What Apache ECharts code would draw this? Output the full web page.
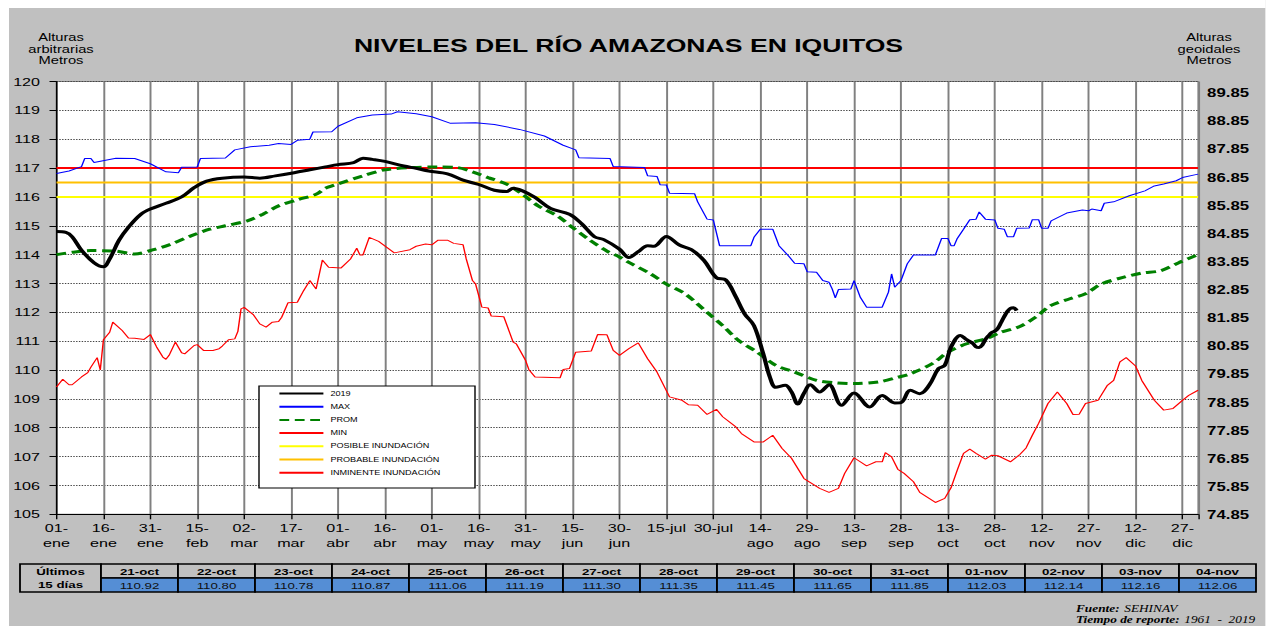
<!DOCTYPE html>
<html>
<head>
<meta charset="utf-8">
<title>Niveles del río Amazonas en Iquitos</title>
<script src="https://cdn.jsdelivr.net/npm/echarts@6/dist/echarts.min.js"></script>
<style>
html, body { margin: 0; padding: 0; background: #fff; overflow: hidden; }
#chart { height: 626px; transform-origin: 0 0; }
</style>
</head>
<body>
<div id="chart"></div>
<script>
// ticks of the day axis (one every 15 days)
var xLabels = ['01-\nene', '16-\nene', '31-\nene', '15-\nfeb', '02-\nmar', '17-\nmar', '01-\nabr', '16-\nabr',
  '01-\nmay', '16-\nmay', '31-\nmay', '15-\njun', '30-\njun', '15-jul', '30-jul', '14-\nago', '29-\nago',
  '13-\nsep', '28-\nsep', '13-\noct', '28-\noct', '12-\nnov', '27-\nnov', '12-\ndic', '27-\ndic'];
// geoidal heights (right axis), from 105 to 120 arbitrary
var rightLabels = ['74.85', '75.85', '76.85', '77.85', '78.85', '79.85', '80.85', '81.85',
  '82.85', '83.85', '84.85', '85.85', '86.85', '87.85', '88.85', '89.85'];

var thresholdNames = ['POSIBLE INUNDACIÓN', 'PROBABLE INUNDACIÓN', 'INMINENTE INUNDACIÓN'];
var thresholdLevels = [116, 116.5, 117];

// 2019 (day of year, level)
var days2019 = [0, 3, 5, 8, 12, 15, 17, 20, 23, 27, 30, 35, 40, 44, 48, 53, 60, 65, 70, 76,
  81, 86, 90, 95, 98, 101, 105, 111, 115, 119, 125, 130, 135, 140, 144, 146, 149, 153, 158, 164,
  168, 172, 175, 180, 183, 186, 189, 191, 195, 199, 203, 207, 211, 214, 217, 220, 223, 226, 228, 230,
  233, 235, 237, 239, 241, 244, 247, 251, 255, 260, 264, 268, 270, 273, 276, 279, 282, 284, 286, 289,
  291, 293, 294, 295, 296, 297, 298, 299, 300, 301, 302, 303, 304, 305, 306, 307];
var level2019 = [114.80, 114.77, 114.62, 114.15, 113.72, 113.58, 113.85, 114.50, 114.95, 115.40,
  115.58, 115.78, 116.00, 116.32, 116.55, 116.65, 116.69, 116.65, 116.73, 116.84,
  116.94, 117.04, 117.12, 117.19, 117.34, 117.30, 117.23, 117.07, 116.99, 116.90,
  116.80, 116.58, 116.43, 116.23, 116.19, 116.30, 116.21, 115.98, 115.60, 115.40,
  115.06, 114.62, 114.52, 114.19, 113.90, 114.10, 114.31, 114.29, 114.63, 114.34,
  114.17, 113.80, 113.20, 113.12, 112.58, 111.95, 111.54, 110.55, 109.78, 109.40,
  109.47, 109.24, 108.82, 109.20, 109.49, 109.24, 109.49, 108.78, 109.20, 108.72,
  109.12, 108.86, 108.87, 109.30, 109.18, 109.47, 110.05, 110.16, 110.80, 111.20,
  111.05, 110.92, 110.80, 110.78, 110.87, 111.06, 111.19, 111.30, 111.35, 111.45,
  111.65, 111.85, 112.03, 112.14, 112.16, 112.06];

// PROM
var daysProm = [0, 5, 11, 19, 25, 31, 36, 43, 49, 54, 61, 66, 71, 77, 83, 86, 90, 98, 105, 114,
  122, 128, 133, 138, 144, 149, 154, 160, 165, 170, 176, 180, 183, 190, 195, 201, 208, 213, 218, 224,
  230, 236, 243, 249, 255, 263, 269, 273, 280, 285, 291, 297, 302, 308, 313, 318, 324, 329, 334, 341,
  347, 353, 359, 365];
var levelProm = [114.00, 114.08, 114.14, 114.12, 114.02, 114.17, 114.34, 114.65, 114.88, 115.00,
  115.17, 115.40, 115.69, 115.90, 116.09, 116.30, 116.45, 116.73, 116.94, 117.02,
  117.04, 117.02, 116.87, 116.67, 116.44, 116.09, 115.69, 115.35, 114.94, 114.54,
  114.12, 113.92, 113.73, 113.33, 112.98, 112.64, 112.00, 111.54, 111.03, 110.62,
  110.16, 109.93, 109.64, 109.56, 109.53, 109.59, 109.75, 109.87, 110.22, 110.62,
  110.91, 111.08, 111.31, 111.51, 111.83, 112.24, 112.47, 112.64, 112.98, 113.21,
  113.36, 113.44, 113.73, 114.00];

// MAX
var daysMax = [0, 4, 8, 9, 11, 12, 19, 25, 30, 35, 39, 40, 45, 46, 54, 57, 62, 68, 71, 75,
  77, 81, 82, 88, 90, 96, 101, 107, 109, 115, 120, 126, 134, 140, 148, 156, 162, 166, 167, 177,
  178, 188, 189, 192, 193, 195, 196, 204, 205, 208, 210, 212, 222, 223, 225, 229, 231, 234, 236, 239,
  240, 243, 245, 247, 248, 249, 250, 254, 255, 257, 259, 264, 266, 267, 268, 270, 272, 274, 281, 283,
  285, 286, 287, 288, 290, 292, 294, 295, 297, 300, 301, 303, 304, 306, 307, 311, 312, 314, 315, 317,
  318, 323, 328, 330, 331, 334, 335, 338, 343, 348, 351, 354, 358, 360, 365];
var levelMax = [116.81, 116.90, 117.05, 117.33, 117.33, 117.19, 117.34, 117.33, 117.15, 116.87,
  116.84, 117.03, 117.04, 117.33, 117.35, 117.63, 117.74, 117.79, 117.85, 117.82,
  117.96, 118.00, 118.25, 118.26, 118.45, 118.74, 118.84, 118.87, 118.95, 118.88,
  118.78, 118.55, 118.57, 118.51, 118.34, 118.11, 117.79, 117.63, 117.36, 117.33,
  117.05, 117.02, 116.73, 116.71, 116.42, 116.41, 116.13, 116.11, 115.83, 115.23,
  115.20, 114.31, 114.31, 114.60, 114.88, 114.88, 114.31, 113.96, 113.70, 113.68,
  113.41, 113.39, 113.10, 113.04, 112.81, 112.50, 112.79, 112.81, 113.10, 112.52,
  112.18, 112.18, 112.70, 113.33, 112.87, 113.10, 113.68, 113.99, 113.99, 114.56,
  114.56, 114.31, 114.31, 114.56, 114.88, 115.21, 115.23, 115.48, 115.23, 115.20,
  114.91, 114.88, 114.62, 114.62, 114.91, 114.92, 115.21, 115.21, 114.91, 114.91,
  115.17, 115.44, 115.55, 115.52, 115.58, 115.52, 115.78, 115.83, 116.04, 116.21,
  116.38, 116.45, 116.56, 116.67, 116.79];

// MIN
var daysMin = [0, 2, 4, 5, 8, 10, 11, 13, 14, 15, 17, 18, 21, 23, 25, 28, 30, 32, 34, 35,
  36, 38, 40, 41, 44, 45, 47, 50, 52, 53, 55, 57, 58, 59, 60, 63, 65, 67, 69, 71,
  72, 74, 77, 79, 81, 83, 85, 87, 91, 94, 96, 97, 98, 100, 103, 108, 113, 115, 118, 120,
  122, 125, 127, 130, 131, 133, 134, 136, 138, 139, 143, 146, 147, 150, 151, 153, 161, 162, 164, 166,
  171, 173, 176, 178, 180, 183, 186, 189, 192, 196, 200, 202, 205, 208, 211, 213, 217, 219, 223, 226,
  229, 232, 235, 239, 244, 247, 250, 252, 255, 259, 262, 264, 265, 267, 269, 271, 274, 276, 279, 281,
  284, 286, 288, 290, 292, 294, 297, 299, 301, 305, 308, 310, 312, 314, 317, 320, 323, 325, 327, 329,
  333, 336, 338, 340, 342, 345, 347, 351, 354, 357, 360, 362, 365];
var levelMin = [109.41, 109.68, 109.49, 109.49, 109.76, 109.91, 110.10, 110.43, 110.00, 111.05,
  111.31, 111.66, 111.37, 111.11, 111.10, 111.06, 111.23, 110.80, 110.45, 110.37,
  110.51, 110.97, 110.60, 110.56, 110.85, 110.88, 110.68, 110.68, 110.74, 110.83,
  111.05, 111.08, 111.34, 112.12, 112.17, 111.91, 111.60, 111.49, 111.66, 111.68,
  111.83, 112.33, 112.35, 112.75, 113.10, 112.81, 113.81, 113.56, 113.54, 113.85,
  114.22, 113.99, 113.99, 114.60, 114.46, 114.06, 114.17, 114.29, 114.37, 114.34,
  114.50, 114.50, 114.39, 114.34, 113.85, 113.10, 112.98, 112.18, 112.15, 111.87,
  111.85, 110.97, 110.91, 110.33, 110.02, 109.76, 109.73, 110.02, 110.05, 110.62,
  110.66, 111.23, 111.22, 110.68, 110.51, 110.74, 110.94, 110.39, 109.93, 109.07,
  108.95, 108.80, 108.78, 108.46, 108.64, 108.38, 108.05, 107.80, 107.51, 107.51,
  107.74, 107.28, 106.94, 106.24, 105.90, 105.76, 105.90, 106.42, 106.96, 106.68,
  106.82, 106.82, 107.14, 106.99, 106.56, 106.42, 106.13, 105.76, 105.55, 105.41,
  105.55, 105.92, 106.53, 107.11, 107.26, 107.11, 106.91, 107.05, 107.03, 106.82,
  107.07, 107.30, 107.74, 108.15, 108.84, 109.24, 108.84, 108.46, 108.47, 108.84,
  108.95, 109.47, 109.64, 110.28, 110.43, 110.14, 109.64, 108.95, 108.61, 108.67,
  108.95, 109.12, 109.30];

// last 15 days table
var tableDates = ['21-oct', '22-oct', '23-oct', '24-oct', '25-oct', '26-oct', '27-oct', '28-oct',
  '29-oct', '30-oct', '31-oct', '01-nov', '02-nov', '03-nov', '04-nov'];
var tableValues = ['110.92', '110.80', '110.78', '110.87', '111.06', '111.19', '111.30', '111.35',
  '111.45', '111.65', '111.85', '112.03', '112.14', '112.16', '112.06'];

// the original picture is stretched sideways, so draw narrow and stretch
var S = 1.4;
var W = 1266 / S;
var FONT = '"Liberation Sans", Arial, sans-serif';
var SERIF = '"Liberation Serif", "Times New Roman", serif';

function px(x) { return x / S; }
function pairs(d, v) { return d.map(function (x, i) { return [x, v[i]]; }); }

var dom = document.getElementById('chart');
dom.style.width = W + 'px';
dom.style.transform = 'scaleX(' + S + ')';
var chart = echarts.init(dom, null, { renderer: 'svg' });

var footRich = {
  b: { fontFamily: SERIF, fontSize: 9.5, fontStyle: 'italic', fontWeight: 'bold', fill: '#000' },
  i: { fontFamily: SERIF, fontSize: 9.5, fontStyle: 'italic', fill: '#000' }
};

var graphics = [
  { type: 'rect', shape: { x: 0, y: 0, width: W, height: 8 }, style: { fill: '#fff' } },
  { type: 'rect', shape: { x: 0, y: 0, width: px(9), height: 626 }, style: { fill: '#fff' } },
  { type: 'text', x: px(628.5), y: 45,
    style: { text: 'NIVELES DEL RÍO AMAZONAS EN IQUITOS', fontSize: 19, fontWeight: 'bold', fontFamily: FONT,
      fill: '#000', align: 'center', verticalAlign: 'middle' } },
  { type: 'text', x: px(61), y: 49,
    style: { text: 'Alturas\narbitrarias\nMetros', fontSize: 10.5, lineHeight: 11.7, fontFamily: FONT,
      fill: '#000', align: 'center', verticalAlign: 'middle' } },
  { type: 'text', x: px(1209), y: 49,
    style: { text: 'Alturas\ngeoidales\nMetros', fontSize: 10.5, lineHeight: 11.7, fontFamily: FONT,
      fill: '#000', align: 'center', verticalAlign: 'middle' } },
  // legend box
  { type: 'rect', z: 10, shape: { x: px(259), y: 386, width: px(216), height: 102 },
    style: { fill: '#fff', stroke: '#000', lineWidth: 1 } },
  // footer
  { type: 'text', x: px(1076), y: 609,
    style: { text: '{b|Fuente:} {i|SEHINAV}', verticalAlign: 'middle', rich: footRich } },
  { type: 'text', x: px(1076), y: 619.5,
    style: { text: '{b|Tiempo de reporte:} {i|1961  -  2019}', verticalAlign: 'middle', rich: footRich } }
];

// table of the last 15 days
var tX = 20, tY = 564, firstW = 81, colW = 77, rowH = 14;
graphics.push({ type: 'rect', z: 5, shape: { x: px(tX), y: tY, width: px(firstW), height: rowH * 2 },
  style: { fill: '#c0c0c0', stroke: '#000', lineWidth: 1.3 } });
graphics.push({ type: 'text', z: 6, x: px(tX + firstW / 2), y: tY + rowH,
  style: { text: 'Últimos\n15 días', fontSize: 9.5, lineHeight: 12.5, fontWeight: 'bold', fontFamily: FONT,
    fill: '#000', align: 'center', verticalAlign: 'middle' } });
tableDates.forEach(function (d, i) {
  var x = tX + firstW + i * colW;
  graphics.push({ type: 'rect', z: 5, shape: { x: px(x), y: tY, width: px(colW), height: rowH },
    style: { fill: '#c0c0c0', stroke: '#000', lineWidth: 1.3 } });
  graphics.push({ type: 'rect', z: 5, shape: { x: px(x), y: tY + rowH, width: px(colW), height: rowH },
    style: { fill: '#558ed5', stroke: '#000', lineWidth: 1.3 } });
  graphics.push({ type: 'text', z: 6, x: px(x + colW / 2), y: tY + rowH / 2 + 0.5,
    style: { text: d, fontSize: 9.5, fontWeight: 'bold', fontFamily: FONT, fill: '#000',
      align: 'center', verticalAlign: 'middle' } });
  graphics.push({ type: 'text', z: 6, x: px(x + colW / 2), y: tY + rowH * 1.5 + 0.5,
    style: { text: tableValues[i], fontSize: 9.5, fontFamily: FONT, fill: '#111',
      align: 'center', verticalAlign: 'middle' } });
});

var thresholdColors = ['#ffff00', '#ffc000', '#ff0000'];
var series = thresholdLevels.map(function (t, i) {
  return {
    name: thresholdNames[i], type: 'line', xAxisIndex: 0, yAxisIndex: 0,
    data: [[0, t], [365, t]], symbol: 'none', silent: true,
    lineStyle: { color: thresholdColors[i], width: 2 }, itemStyle: { color: thresholdColors[i] }
  };
});
series.push({
  name: 'MIN', type: 'line', data: pairs(daysMin, levelMin), symbol: 'none',
  lineStyle: { color: '#ff0000', width: 1 }, itemStyle: { color: '#ff0000' }
});
series.push({
  name: 'MAX', type: 'line', data: pairs(daysMax, levelMax), symbol: 'none',
  lineStyle: { color: '#0000ff', width: 1 }, itemStyle: { color: '#0000ff' }
});
series.push({
  name: 'PROM', type: 'line', data: pairs(daysProm, levelProm), symbol: 'none', smooth: 0.3,
  lineStyle: { color: '#008000', width: 3, type: [7, 4] }, itemStyle: { color: '#008000' }
});
series.push({
  name: '2019', type: 'line', data: pairs(days2019, level2019), symbol: 'none', smooth: 0.35,
  lineStyle: { color: '#000', width: 3 }, itemStyle: { color: '#000' }
});

var gridL = px(56.5), gridR = px(1266 - 1198.5);

var option = {
  animation: false,
  backgroundColor: '#c0c0c0',
  textStyle: { fontFamily: FONT },
  grid: [
    { left: gridL, right: gridR, top: 81.5, bottom: 626 - 514.3, show: true, backgroundColor: '#fff',
      borderColor: '#808080', borderWidth: 1, outerBoundsMode: 'none' },
    { left: gridL, right: gridR, top: 93, bottom: 626 - 515, show: false, outerBoundsMode: 'none' }
  ],
  legend: {
    data: ['2019', 'MAX', 'PROM', 'MIN'].concat(thresholdNames),
    orient: 'vertical', left: px(278), top: 390, padding: 0,
    itemWidth: px(44), itemHeight: 8, itemGap: 6.2, z: 20,
    itemStyle: { opacity: 0 },
    textStyle: { fontSize: 6.5, color: '#000', fontFamily: FONT }
  },
  xAxis: [
    { gridIndex: 0, type: 'value', min: 0, max: 365, interval: 15,
      axisLine: { lineStyle: { color: '#000', width: 1.2 } },
      axisTick: { length: 5, lineStyle: { color: '#000' } },
      axisLabel: { color: '#000', fontSize: 11.5, lineHeight: 15, margin: 6.5, fontFamily: FONT,
        formatter: function (v) { return v % 15 === 0 && v / 15 < xLabels.length ? xLabels[v / 15] : ''; } },
      splitLine: { show: true, lineStyle: { color: '#808080', width: 1.4 } } },
    { gridIndex: 1, type: 'value', min: 0, max: 365, show: false }
  ],
  yAxis: [
    { gridIndex: 0, type: 'value', min: 105, max: 120, interval: 1,
      axisLine: { show: true, lineStyle: { color: '#000', width: 1 } },
      axisTick: { show: true, length: 5, lineStyle: { color: '#000' } },
      axisLabel: { color: '#000', fontSize: 11.5, margin: px(16.5), fontFamily: FONT },
      splitLine: { show: true, lineStyle: { color: '#444', type: 'dotted', width: 1 } } },
    { gridIndex: 1, type: 'value', position: 'right', min: 105, max: 120, interval: 1,
      axisLine: { show: false }, axisTick: { show: false }, splitLine: { show: false },
      axisLabel: { color: '#000', fontSize: 12, fontWeight: 'bold', margin: px(9), fontFamily: FONT,
        formatter: function (v) { return rightLabels[Math.round(v - 105)]; } } }
  ],
  graphic: { elements: graphics },
  series: series
};

chart.setOption(option);
</script>
</body>
</html>
